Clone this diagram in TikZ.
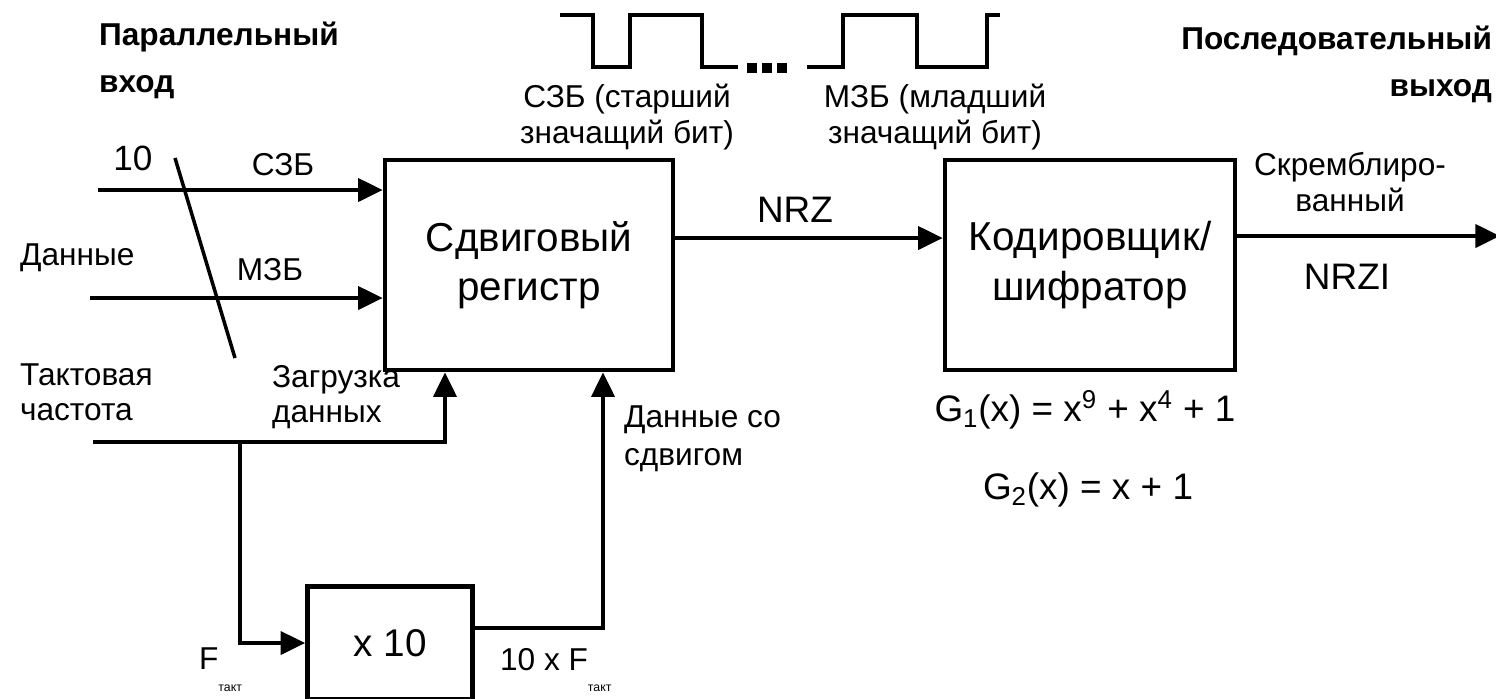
\documentclass[tikz,border=0pt]{standalone}
\usepackage{fontspec}
\setmainfont{Liberation Sans}
\usetikzlibrary{arrows.meta}

\begin{document}
\begin{tikzpicture}[x=0.02cm, y=-0.02cm, line width=2.4pt,
  every node/.style={inner sep=0pt, font=\fontsize{18}{20}\selectfont},
  blk/.style={draw, rectangle, line width=2.6pt, align=center, font=\fontsize{23}{28}\selectfont},
  sig/.style={-{Triangle[length=14pt,width=13pt]}},
  ttl/.style={font=\fontsize{18}{26.5}\selectfont\bfseries}]
            \useasboundingbox (0,0) rectangle (1496,698);

            % Blocks
            \node[blk, minimum width=5.76cm, minimum height=4.2cm] (reg) at (529,265) {Сдвиговый\\регистр};
            \node[blk, minimum width=5.8cm, minimum height=4.2cm] (coder) at (1090,265) {Кодировщик/\\шифратор};
            \node[blk, minimum width=3.3cm, minimum height=2.26cm, font=\fontsize{22}{26}\selectfont] (mul) at (390,643) {x 10};

            % Free ends of the wires
            \coordinate (msbIn) at (98,190);
            \coordinate (lsbIn) at (90,298);
            \coordinate (busA) at (175,158);
            \coordinate (busB) at (235,358);
            \coordinate (clkIn) at (93,442);
            \coordinate (clkUp) at (445,442);
            \coordinate (tap) at (240,442);
            \coordinate (shiftUp) at (603,628);
            \coordinate (nrz) at (800,238);
            \coordinate (out) at (1500,236);

            % Wires
            \draw[sig] (msbIn) -- (msbIn -| reg.west);
            \draw[sig] (lsbIn) -- (lsbIn -| reg.west);
            \draw[line width=2pt] (busA) -- (busB);
            \draw[sig] (clkIn) -- (clkUp) -- (clkUp |- reg.south);
            \draw[sig] (tap) |- (mul.west);
            \draw[sig] (mul.east |- shiftUp) -- (shiftUp) -- (shiftUp |- reg.south);
            \draw[sig] (nrz -| reg.east) -- (nrz -| coder.west);
            \draw[sig] (out -| coder.east) -- (out);

            % Bit stream
            \draw[line width=2pt] (560,15) -- (593,15) -- (593,67) -- (630,67) -- (630,15) -- (702,15) -- (702,67) -- (738,67);
            \draw[line width=2pt] (807,67) -- (843,67) -- (843,15) -- (917,15) -- (917,67) -- (987,67) -- (987,15) -- (1000,15);
            \foreach \d in {752,767,782}
                \fill (\d-5,63) rectangle (\d+5,73);

            % Labels
            \node[ttl, anchor=north west, align=left] (inTtl) at (97,20) {Параллельный\\вход};
            \node[ttl, anchor=north east, align=right] (outTtl) at (1494,24) {Последовательный\\выход};
            \node[font=\fontsize{20}{22}\selectfont] (busW) at (133,158) {10};
            \node (msbLbl) at (283,165) {СЗБ};
            \node (lsbLbl) at (270,270) {МЗБ};
            \node[anchor=west] (dataLbl) at (18,258) {Данные};
            \node[anchor=west, align=left] (clkLbl) at (18,392) {Тактовая\\частота};
            \node[anchor=west, align=left] (loadLbl) at (270,397) {Загрузка\\данных};
            \node[anchor=west, align=left, font=\fontsize{18}{21.5}\selectfont] (shiftLbl) at (622,439) {Данные со\\сдвигом};
            \node[align=center] (msbNote) at (627,117) {СЗБ (старший\\значащий бит)};
            \node[align=center] (lsbNote) at (935,117) {МЗБ (младший\\значащий бит)};
            \node[font=\fontsize{21}{24}\selectfont] (nrzLbl) at (795,210) {NRZ};
            \node[align=center] (scrLbl) at (1350,182) {Скремблиро-\\ванный};
            \node[font=\fontsize{21}{24}\selectfont] (nrziLbl) at (1347,277) {NRZI};
            \node[font=\fontsize{21}{24}\selectfont] (g1) at (1085,410) {G\textsubscript{1}(x) = x\textsuperscript{9} + x\textsuperscript{4} + 1};
            \node[font=\fontsize{21}{24}\selectfont] (g2) at (1088,490) {G\textsubscript{2}(x) = x + 1};
            \node[anchor=west] (fLbl) at (197,670) {F\raisebox{-1.3ex}{\fontsize{7}{8}\selectfont такт}};
            \node[anchor=west] (f10Lbl) at (498,670) {10 x F\raisebox{-1.3ex}{\fontsize{7}{8}\selectfont такт}};
\end{tikzpicture}
\end{document}
